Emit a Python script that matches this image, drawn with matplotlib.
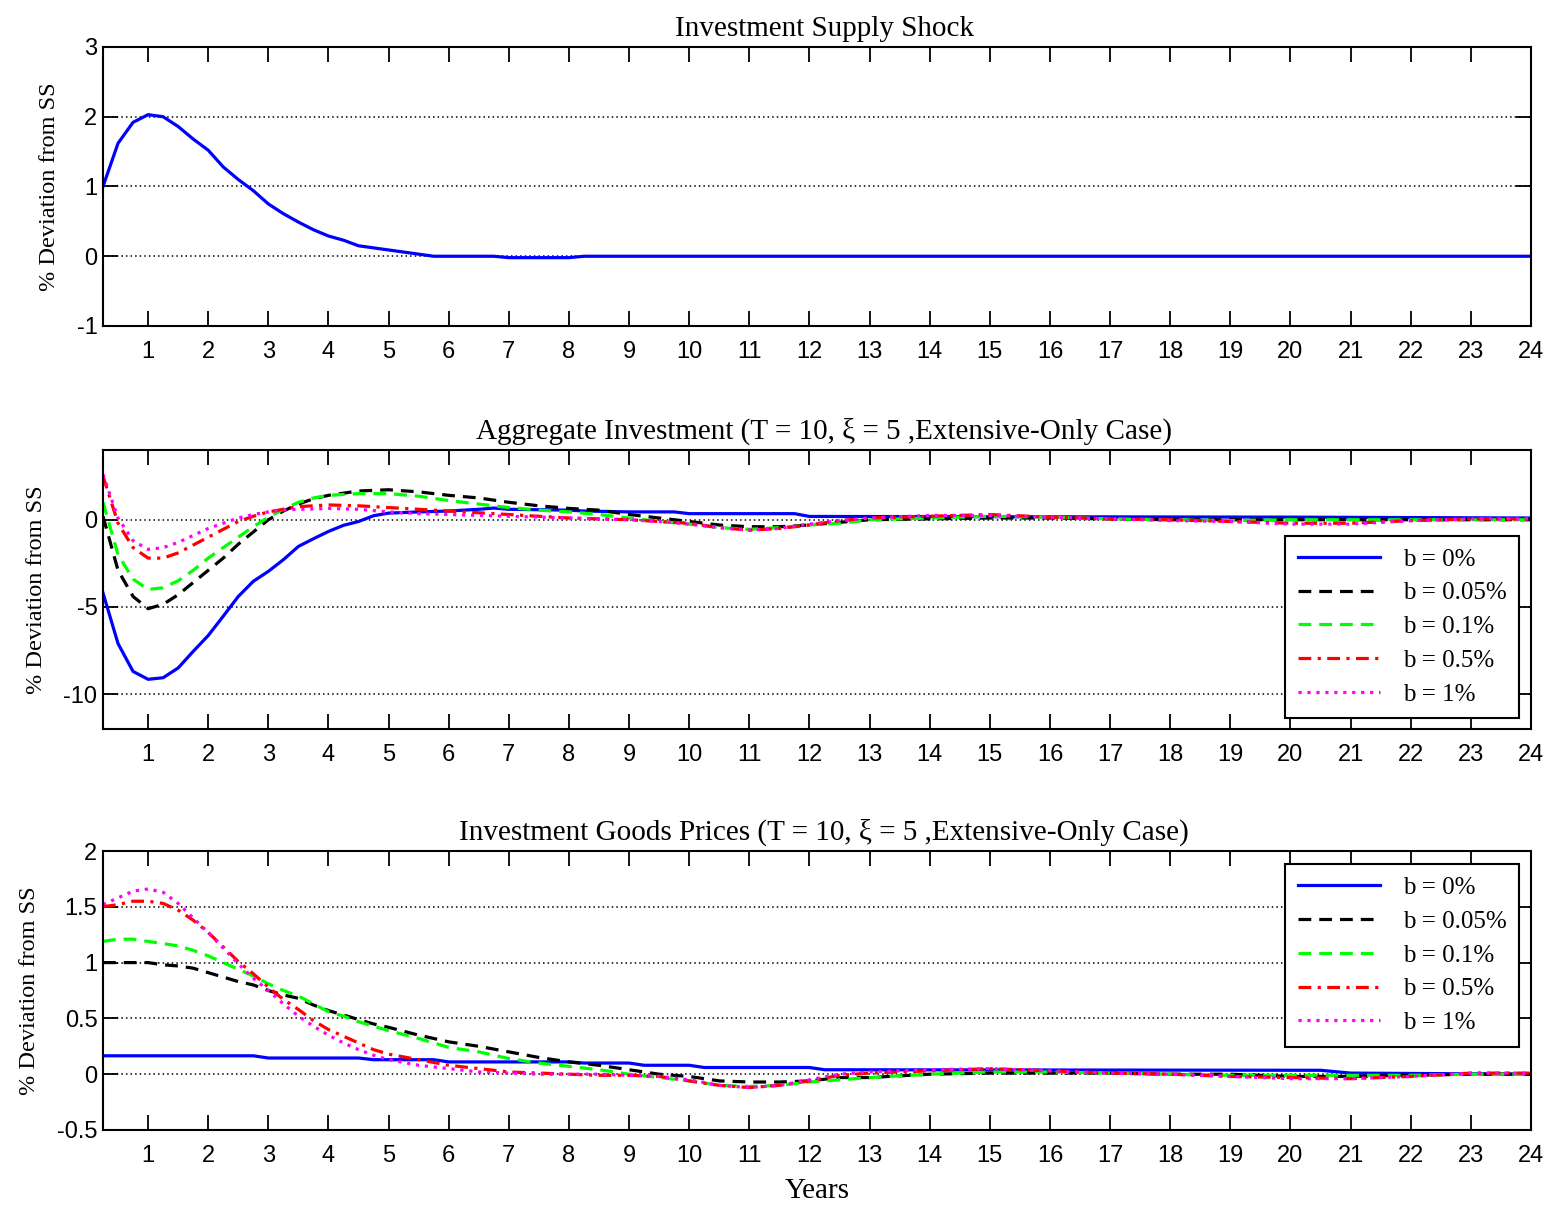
import numpy as np
import matplotlib
matplotlib.use("Agg")
import matplotlib.pyplot as plt

# ---- data (years on x) ----
# panel 1: investment supply shock
shock_t = [0.25, 0.5, 0.75, 1.0, 1.25, 1.5, 1.75, 2.0, 2.25, 2.5, 2.75, 3.0, 3.25, 3.5, 3.75,
           4.0, 4.25, 4.5, 4.75, 5.0, 5.25, 5.5, 5.75, 6.75, 7.0, 8.0, 8.25, 24.0]
shock_v = [1.0, 1.62, 1.92, 2.03, 2.0, 1.86, 1.68, 1.52, 1.28, 1.10, 0.94, 0.75, 0.61, 0.49, 0.38,
           0.29, 0.23, 0.15, 0.12, 0.09, 0.06, 0.03, 0.0, 0.0, -0.02, -0.02, 0.0, 0.0]

# panel 2: aggregate investment
inv_b0_t = [0.25, 0.5, 0.75, 1.0, 1.25, 1.5, 1.75, 2.0, 2.25, 2.5, 2.75, 3.0, 3.25, 3.5, 3.75,
            4.0, 4.25, 4.5, 4.75, 5.0, 5.5, 6.0, 6.5, 6.75, 7.0, 8.0, 8.25, 9.0, 9.75, 10.0,
            11.75, 12.0, 20.0, 24.0]
inv_b0_v = [-4.2, -7.1, -8.7, -9.15, -9.06, -8.5, -7.55, -6.64, -5.53, -4.4, -3.53, -2.96, -2.29,
            -1.53, -1.09, -0.67, -0.32, -0.1, 0.23, 0.38, 0.45, 0.5, 0.6, 0.67, 0.6, 0.55, 0.5,
            0.45, 0.45, 0.35, 0.35, 0.19, 0.15, 0.1]

inv_t = [0.25, 0.5, 0.75, 1.0, 1.25, 1.5, 1.75, 2.0, 2.25, 2.5, 2.75, 3.0, 3.25, 3.5, 3.75,
         4.0, 4.5, 5.0, 5.5, 6.0, 6.5, 7.0, 7.5, 8.0, 8.5, 9.0, 9.5, 10.0, 10.5, 11.0, 11.5,
         12.0, 12.5, 13.0, 14.0, 15.0, 16.0, 17.0, 18.0, 19.0, 20.0, 21.0, 22.0, 23.0, 24.0]
inv_b005 = [0.2, -2.9, -4.4, -5.1, -4.85, -4.3, -3.6, -2.9, -2.2, -1.4, -0.7, 0.0, 0.5, 0.9, 1.2,
            1.4, 1.65, 1.72, 1.6, 1.4, 1.25, 1.0, 0.8, 0.65, 0.55, 0.3, 0.1, -0.1, -0.3, -0.4, -0.4,
            -0.3, -0.15, 0.0, 0.05, 0.1, 0.1, 0.05, 0.0, 0.0, 0.0, 0.0, 0.0, 0.0, 0.0]
inv_b01 = [1.0, -2.0, -3.4, -4.0, -3.9, -3.5, -2.9, -2.2, -1.6, -1.0, -0.4, 0.15, 0.6, 1.0, 1.25,
           1.4, 1.5, 1.5, 1.35, 1.1, 0.9, 0.7, 0.55, 0.45, 0.3, 0.1, -0.1, -0.25, -0.45, -0.55,
           -0.45, -0.3, -0.2, 0.0, 0.1, 0.2, 0.15, 0.05, 0.0, -0.05, 0.0, 0.0, 0.0, 0.0, 0.0]
inv_b05 = [2.5, -0.2, -1.6, -2.2, -2.2, -1.9, -1.45, -1.0, -0.55, -0.1, 0.2, 0.45, 0.6, 0.75, 0.8,
           0.85, 0.8, 0.7, 0.6, 0.5, 0.4, 0.3, 0.2, 0.1, 0.05, 0.0, -0.1, -0.2, -0.45, -0.6, -0.5,
           -0.3, -0.05, 0.1, 0.2, 0.3, 0.15, 0.05, 0.0, -0.1, -0.2, -0.2, -0.05, 0.05, 0.05]
inv_b1 = [2.6, 0.1, -1.2, -1.7, -1.6, -1.3, -0.9, -0.5, -0.2, 0.1, 0.3, 0.45, 0.55, 0.6, 0.62,
          0.65, 0.6, 0.45, 0.35, 0.3, 0.25, 0.2, 0.15, 0.1, 0.05, 0.0, -0.1, -0.25, -0.45, -0.6,
          -0.5, -0.25, -0.05, 0.1, 0.25, 0.25, 0.15, 0.05, -0.05, -0.1, -0.25, -0.25, -0.05, 0.05, 0.05]

# panel 3: investment goods prices
pr_b0_t = [0.25, 2.75, 3.0, 4.5, 4.75, 5.75, 6.0, 8.0, 8.25, 9.0, 9.25, 10.0, 10.25, 12.0, 12.25,
           20.5, 21.0, 24.0]
pr_b0_v = [0.165, 0.165, 0.145, 0.145, 0.13, 0.13, 0.11, 0.11, 0.1, 0.1, 0.08, 0.08, 0.06, 0.06,
           0.04, 0.035, 0.01, 0.0]

pr_t = [0.25, 0.5, 0.75, 1.0, 1.25, 1.5, 1.75, 2.0, 2.25, 2.5, 2.75, 3.0, 3.25, 3.5, 3.75, 4.0,
        4.25, 4.5, 4.75, 5.0, 5.5, 6.0, 6.5, 7.0, 7.5, 8.0, 8.5, 9.0, 9.5, 10.0, 10.5, 11.0, 11.5,
        12.0, 12.5, 13.0, 14.0, 15.0, 16.0, 17.0, 18.0, 19.0, 20.0, 21.0, 22.0, 23.0, 24.0]
pr_b005 = [1.0, 1.0, 1.0, 1.0, 0.98, 0.97, 0.95, 0.91, 0.87, 0.83, 0.80, 0.75, 0.71, 0.68, 0.62,
           0.57, 0.53, 0.49, 0.45, 0.42, 0.35, 0.29, 0.25, 0.2, 0.15, 0.11, 0.08, 0.04, 0.0, -0.02,
           -0.06, -0.07, -0.07, -0.06, -0.03, -0.03, 0.0, 0.01, 0.01, 0.01, 0.0, 0.0, -0.02, -0.02,
           -0.01, 0.0, 0.0]
pr_b01 = [1.19, 1.21, 1.21, 1.19, 1.17, 1.15, 1.11, 1.06, 1.0, 0.94, 0.88, 0.81, 0.75, 0.7, 0.63,
          0.56, 0.52, 0.47, 0.43, 0.39, 0.32, 0.24, 0.2, 0.14, 0.1, 0.07, 0.04, 0.0, -0.03, -0.06,
          -0.1, -0.11, -0.1, -0.07, -0.05, -0.03, 0.0, 0.02, 0.02, 0.01, 0.0, -0.01, -0.01, -0.01,
          -0.01, 0.0, 0.0]
pr_b05 = [1.5, 1.52, 1.55, 1.55, 1.53, 1.47, 1.38, 1.27, 1.14, 1.01, 0.9, 0.78, 0.67, 0.58, 0.48,
          0.4, 0.34, 0.28, 0.22, 0.18, 0.13, 0.08, 0.05, 0.02, 0.01, 0.0, -0.01, -0.01, -0.02, -0.06,
          -0.1, -0.12, -0.1, -0.06, -0.01, 0.01, 0.03, 0.05, 0.03, 0.01, 0.0, -0.02, -0.03, -0.04,
          -0.02, 0.01, 0.01]
pr_b1 = [1.52, 1.58, 1.64, 1.66, 1.63, 1.53, 1.40, 1.27, 1.13, 0.99, 0.86, 0.75, 0.63, 0.52, 0.43,
         0.35, 0.28, 0.22, 0.17, 0.13, 0.08, 0.05, 0.02, 0.01, 0.0, 0.0, 0.0, -0.01, -0.02, -0.05,
         -0.1, -0.12, -0.1, -0.05, 0.0, 0.02, 0.04, 0.05, 0.03, 0.01, 0.0, -0.02, -0.04, -0.04,
         -0.02, 0.01, 0.01]

labels = ["b = 0%", "b = 0.05%", "b = 0.1%", "b = 0.5%", "b = 1%"]
years = list(range(1, 25))

serif = "Liberation Serif"
sans = "Liberation Sans"
lw = 2.3

fig = plt.figure(figsize=(15.5, 12.05), dpi=100)
left, width, height = 103 / 1550, 1428 / 1550, 279 / 1205
bottoms = [1 - 326 / 1205, 1 - 729 / 1205, 1 - 1130 / 1205]
axes = [fig.add_axes([left, b, width, height]) for b in bottoms]


def style(ax, ylim, yticks, yticklabels, title):
    ax.set_xlim(0.25, 24)
    ax.set_ylim(*ylim)
    ax.set_xticks(years)
    ax.set_xticklabels([str(y) for y in years], fontfamily=sans, fontsize=17)
    ax.set_yticks(yticks)
    ax.set_yticklabels(yticklabels, fontfamily=sans, fontsize=17)
    ax.tick_params(direction="in", length=11, width=1.3, top=True, right=True, pad=11)
    ax.tick_params(axis="y", pad=4)
    ax.yaxis.grid(True, linestyle=(0, (1, 2)), color="black", linewidth=1.1)
    for s in ax.spines.values():
        s.set_linewidth(1.5)
    ax.set_title(title, fontfamily=serif, fontsize=21, pad=8, x=0.505)
    ax.set_ylabel("% Deviation from SS", fontfamily=serif, fontsize=17.5, labelpad=12)


def legend(ax, loc, anchor):
    leg = ax.legend(labels, loc=loc, bbox_to_anchor=anchor, borderaxespad=0,
                    prop={"family": serif, "size": 18}, fancybox=False, framealpha=1,
                    edgecolor="black", handlelength=3.3, handletextpad=0.9,
                    labelspacing=0.45, borderpad=0.5)
    leg.get_frame().set_linewidth(1.5)


# panel 1
ax = axes[0]
ax.plot(shock_t, shock_v, color="blue", lw=lw)
style(ax, (-1, 3), [-1, 0, 1, 2, 3], ["-1", "0", "1", "2", "3"], "Investment Supply Shock")

# panel 2
ax = axes[1]
ax.plot(inv_b0_t, inv_b0_v, color="blue", lw=lw, ls="-")
ax.plot(inv_t, inv_b005, color="black", lw=lw, ls=(0, (4, 2.5)))
ax.plot(inv_t, inv_b01, color="#00ff00", lw=lw, ls=(0, (4, 2.5)))
ax.plot(inv_t, inv_b05, color="red", lw=lw, ls=(0, (4, 2, 1, 2)))
ax.plot(inv_t, inv_b1, color="magenta", lw=lw, ls=(0, (1, 1.8)))
style(ax, (-12, 4), [-10, -5, 0], ["-10", "-5", "0"],
      "Aggregate Investment (T = 10, \u03be = 5 ,Extensive-Only Case)")
legend(ax, "lower right", (0.9916, 0.039))

# panel 3
ax = axes[2]
ax.plot(pr_b0_t, pr_b0_v, color="blue", lw=lw, ls="-")
ax.plot(pr_t, pr_b005, color="black", lw=lw, ls=(0, (4, 2.5)))
ax.plot(pr_t, pr_b01, color="#00ff00", lw=lw, ls=(0, (4, 2.5)))
ax.plot(pr_t, pr_b05, color="red", lw=lw, ls=(0, (4, 2, 1, 2)))
ax.plot(pr_t, pr_b1, color="magenta", lw=lw, ls=(0, (1, 1.8)))
style(ax, (-0.5, 2), [-0.5, 0, 0.5, 1, 1.5, 2], ["-0.5", "0", "0.5", "1", "1.5", "2"],
      "Investment Goods Prices (T = 10, \u03be = 5 ,Extensive-Only Case)")
ax.set_xlabel("Years", fontfamily=serif, fontsize=21, labelpad=8)
legend(ax, "upper right", (0.9916, 0.953))

fig.savefig("out.png", dpi=100)
